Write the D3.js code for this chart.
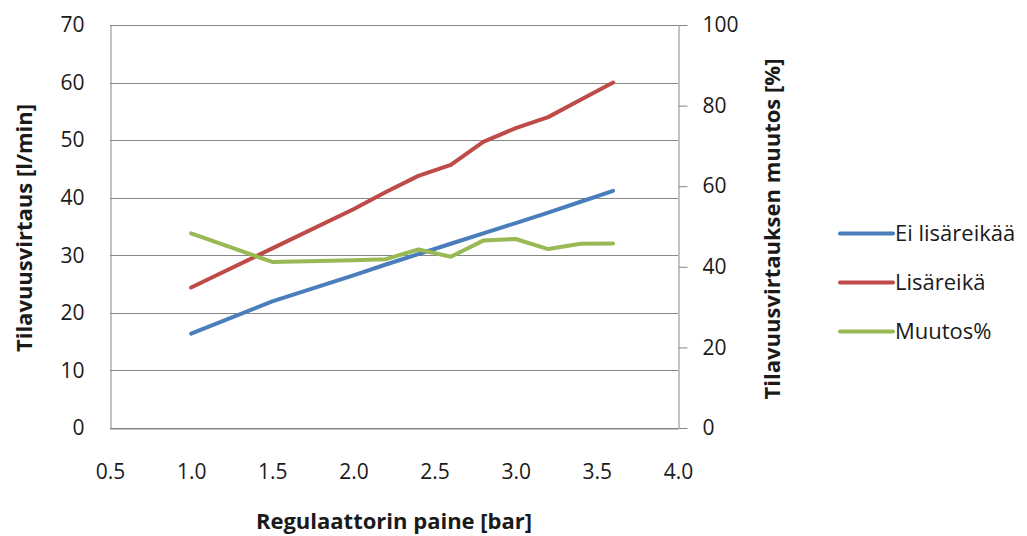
<!DOCTYPE html>
<html>
<head>
<meta charset="utf-8">
<script src="https://cdn.jsdelivr.net/npm/d3@7"></script>
<style>
  html, body { margin: 0; padding: 0; background: #fff; }
  svg { display: block; font-family: "Open Sans", "Noto Sans", sans-serif; }
</style>
</head>
<body>
<svg id="chart" width="1027" height="536"></svg>
<script>
// Pressure settings (bar)
const pressure = [1.0, 1.5, 2.0, 2.2, 2.4, 2.6, 2.8, 3.0, 3.2, 3.4, 3.6];
// Flow rate without extra hole (l/min)
const eiLisareikaa = [16.4, 22.0, 26.5, 28.4, 30.2, 32.0, 33.8, 35.6, 37.4, 39.3, 41.2];
// Flow rate with extra hole (l/min)
const lisareika = [24.4, 31.2, 38.0, 41.0, 43.8, 45.7, 49.7, 52.1, 54.0, 57.0, 60.0];
// Relative change of flow (%), right axis
const muutos = [48.3, 41.2, 41.6, 41.9, 44.3, 42.5, 46.5, 46.9, 44.4, 45.7, 45.8];

const xTicks = [0.5, 1.0, 1.5, 2.0, 2.5, 3.0, 3.5, 4.0];
const yLeftTicks = [0, 10, 20, 30, 40, 50, 60, 70];
const yRightTicks = [0, 20, 40, 60, 80, 100];

const seriesNames = ["Ei lisäreikää", "Lisäreikä", "Muutos%"];
const seriesColors = ["#4A7EBB", "#BE4B48", "#98B954"];

const svg = d3.select("#chart");
const m = { left: 110, right: 678, top: 25, bottom: 428 };

const x = d3.scaleLinear().domain([0.5, 4.0]).range([m.left, m.right]);
const yL = d3.scaleLinear().domain([0, 70]).range([m.bottom, m.top]);
const yR = d3.scaleLinear().domain([0, 100]).range([m.bottom, m.top]);

const axisColor = "#868686";
const textColor = "#1a1a1a";
const tickFont = 21;
const titleFont = 22;
const legendFont = 22;

// Horizontal gridlines on the left scale
svg.append("g")
  .selectAll("line")
  .data(yLeftTicks)
  .join("line")
  .attr("x1", m.left).attr("x2", m.right)
  .attr("y1", d => Math.round(yL(d)) + 0.5)
  .attr("y2", d => Math.round(yL(d)) + 0.5)
  .attr("stroke", axisColor)
  .attr("stroke-width", 1);

function styleAxis(g) {
  g.attr("font-family", null).attr("font-size", null);
  g.select(".domain").attr("stroke", axisColor);
  g.selectAll(".tick line").attr("stroke", axisColor);
  g.selectAll("text").attr("font-size", tickFont).attr("fill", textColor);
}

// Left axis
svg.append("g")
  .attr("transform", `translate(${m.left + 0.5},0)`)
  .call(d3.axisLeft(yL).tickValues(yLeftTicks).tickSize(0).tickPadding(26).tickFormat(d3.format("d")))
  .call(styleAxis);

// Right axis
svg.append("g")
  .attr("transform", `translate(${m.right + 0.5},0)`)
  .call(d3.axisRight(yR).tickValues(yRightTicks).tickSizeInner(9).tickSizeOuter(0).tickPadding(15).tickFormat(d3.format("d")))
  .call(styleAxis);

// Bottom axis
svg.append("g")
  .attr("transform", `translate(0,${m.bottom + 0.5})`)
  .call(d3.axisBottom(x).tickValues(xTicks).tickSize(0).tickPadding(36).tickFormat(d3.format(".1f")))
  .call(styleAxis);

// Series lines
const lineL = d3.line().x((d, i) => x(pressure[i])).y(d => yL(d));
const lineR = d3.line().x((d, i) => x(pressure[i])).y(d => yR(d));

const series = [
  { values: eiLisareikaa, gen: lineL, color: seriesColors[0] },
  { values: lisareika, gen: lineL, color: seriesColors[1] },
  { values: muutos, gen: lineR, color: seriesColors[2] }
];

svg.append("g")
  .selectAll("path")
  .data(series)
  .join("path")
  .attr("d", s => s.gen(s.values))
  .attr("fill", "none")
  .attr("stroke", s => s.color)
  .attr("stroke-width", 4)
  .attr("stroke-linejoin", "round")
  .attr("stroke-linecap", "round");

// Axis titles
svg.append("text")
  .attr("transform", `translate(32,228) rotate(-90)`)
  .attr("text-anchor", "middle")
  .attr("font-size", titleFont)
  .attr("font-weight", "bold")
  .attr("fill", textColor)
  .text("Tilavuusvirtaus [l/min]");

svg.append("text")
  .attr("transform", `translate(780,229) rotate(-90)`)
  .attr("text-anchor", "middle")
  .attr("font-size", titleFont)
  .attr("font-weight", "bold")
  .attr("fill", textColor)
  .text("Tilavuusvirtauksen muutos [%]");

svg.append("text")
  .attr("x", (m.left + m.right) / 2)
  .attr("y", 529)
  .attr("text-anchor", "middle")
  .attr("font-size", titleFont)
  .attr("font-weight", "bold")
  .attr("fill", textColor)
  .text("Regulaattorin paine [bar]");

// Legend
const legend = svg.append("g")
  .selectAll("g")
  .data(seriesNames)
  .join("g")
  .attr("transform", (d, i) => `translate(840,${233.5 + i * 49})`);

legend.append("line")
  .attr("x1", 0).attr("x2", 53)
  .attr("stroke", (d, i) => seriesColors[i])
  .attr("stroke-width", 4)
  .attr("stroke-linecap", "round");

legend.append("text")
  .attr("x", 55)
  .attr("dy", "0.35em")
  .attr("font-size", legendFont)
  .attr("fill", textColor)
  .text(d => d);
</script>
</body>
</html>
